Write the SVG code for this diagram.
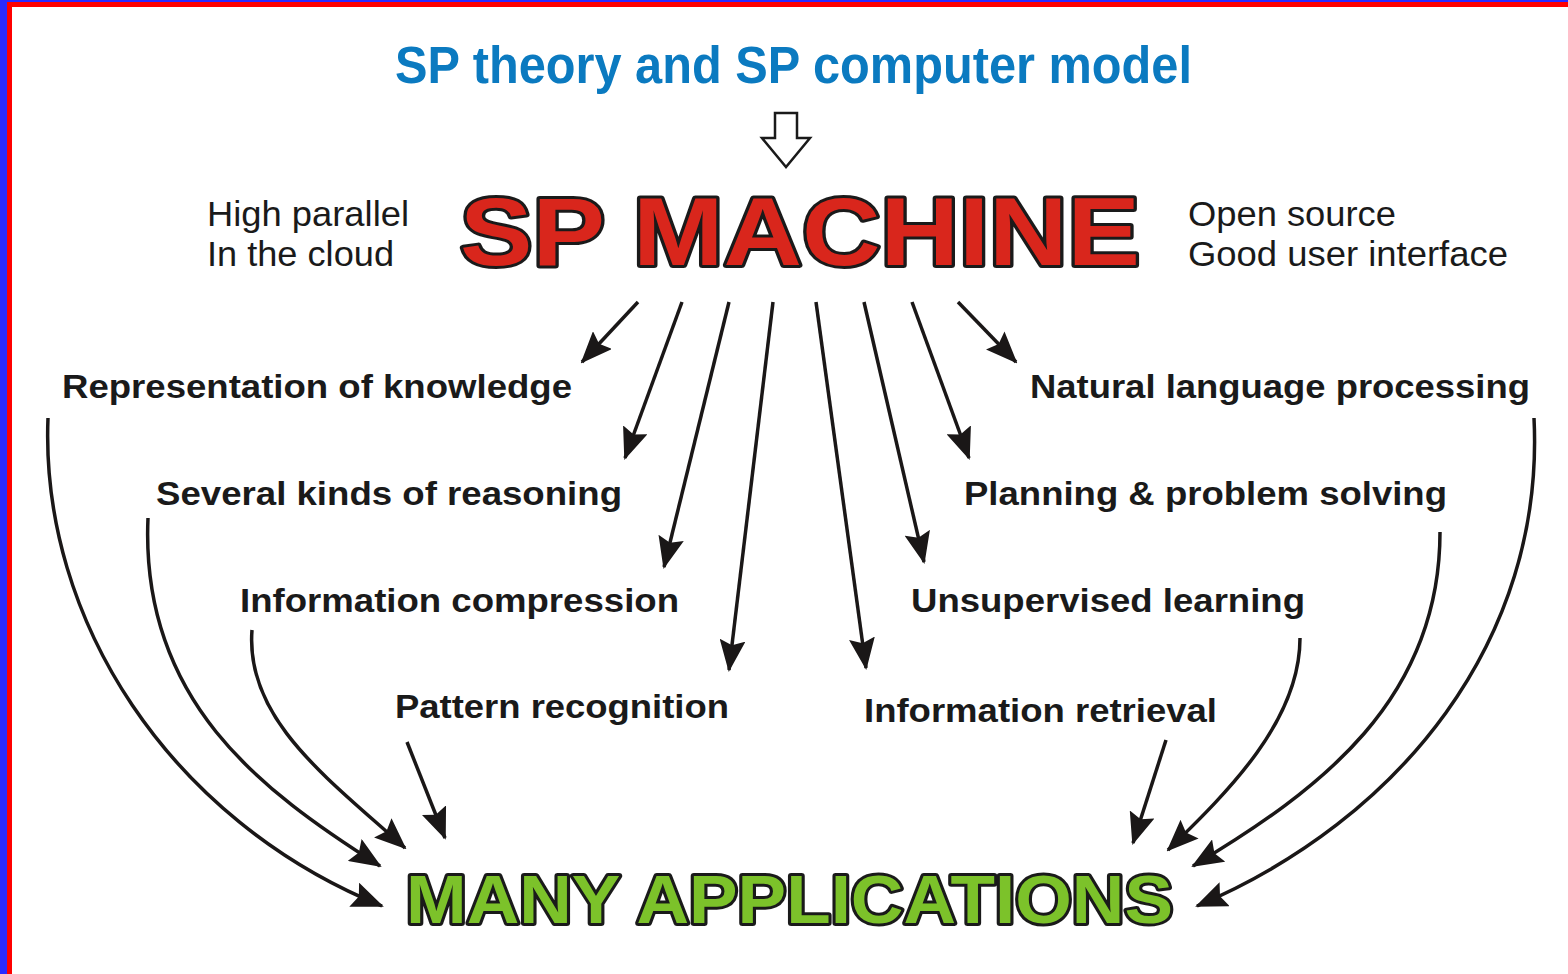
<svg xmlns="http://www.w3.org/2000/svg" width="1568" height="974" viewBox="0 0 1568 974">
<style>
.lbl{font-family:"Liberation Sans",Arial,sans-serif;font-weight:bold;font-size:33px;fill:#1a1a1a}
.plain{font-family:"Liberation Sans",Arial,sans-serif;font-size:35px;fill:#1a1a1a}
.title{font-family:"Liberation Sans",Arial,sans-serif;font-weight:bold;font-size:51px;fill:#0b7ac0}
.big{font-family:"Liberation Sans",Arial,sans-serif;font-weight:bold;stroke:#1a1a1a;stroke-linejoin:round;paint-order:stroke}
.conn{fill:none;stroke:#1a1717;stroke-width:3.5;marker-end:url(#ah)}
</style>
<defs>
<marker id="ah" viewBox="0 0 32 26" markerWidth="32" markerHeight="26" refX="30" refY="13" orient="auto" markerUnits="userSpaceOnUse">
<path d="M0,0 L32,13 L0,26 L5,13 z" fill="#1a1717"/>
</marker>
</defs>
<rect width="1568" height="974" fill="#ffffff"/>
<g id="border">
<rect x="0" y="0" width="1568" height="2" fill="#2a2aff"/>
<rect x="0" y="0" width="7" height="974" fill="#2a2aff"/>
<rect x="7" y="2" width="1561" height="5" fill="#ff0000"/>
<rect x="7" y="2" width="5" height="972" fill="#ff0000"/>
</g>
<g id="title"><text class="title" x="395" y="83" textLength="797" lengthAdjust="spacingAndGlyphs">SP theory and SP computer model</text></g>
<g id="hollow-arrow"><path d="M775,113 H797 V138 H810 L786,167 L762,138 H775 z" fill="#ffffff" stroke="#1a1a1a" stroke-width="2.5" stroke-linejoin="miter"/></g>
<g id="sp-machine"><text class="big" x="460" y="265" font-size="97" fill="#d9261c" stroke-width="6" textLength="680" lengthAdjust="spacingAndGlyphs">SP MACHINE</text></g>
<g id="left-features">
<text class="plain" x="207" y="226" textLength="202" lengthAdjust="spacingAndGlyphs">High parallel</text>
<text class="plain" x="207" y="266" textLength="187" lengthAdjust="spacingAndGlyphs">In the cloud</text>
</g>
<g id="right-features">
<text class="plain" x="1188" y="226" textLength="208" lengthAdjust="spacingAndGlyphs">Open source</text>
<text class="plain" x="1188" y="266" textLength="320" lengthAdjust="spacingAndGlyphs">Good user interface</text>
</g>
<g id="n-representation"><text class="lbl" x="62" y="398" textLength="510" lengthAdjust="spacingAndGlyphs">Representation of knowledge</text></g>
<g id="n-reasoning"><text class="lbl" x="156" y="505" textLength="466" lengthAdjust="spacingAndGlyphs">Several kinds of reasoning</text></g>
<g id="n-compression"><text class="lbl" x="240" y="612" textLength="439" lengthAdjust="spacingAndGlyphs">Information compression</text></g>
<g id="n-pattern"><text class="lbl" x="395" y="718" textLength="334" lengthAdjust="spacingAndGlyphs">Pattern recognition</text></g>
<g id="n-nlp"><text class="lbl" x="1030" y="398" textLength="500" lengthAdjust="spacingAndGlyphs">Natural language processing</text></g>
<g id="n-planning"><text class="lbl" x="964" y="505" textLength="483" lengthAdjust="spacingAndGlyphs">Planning &amp; problem solving</text></g>
<g id="n-unsupervised"><text class="lbl" x="911" y="612" textLength="394" lengthAdjust="spacingAndGlyphs">Unsupervised learning</text></g>
<g id="n-retrieval"><text class="lbl" x="864" y="722" textLength="353" lengthAdjust="spacingAndGlyphs">Information retrieval</text></g>
<g id="many-applications"><text class="big" x="406" y="923" font-size="69" fill="#7cc22a" stroke-width="6" textLength="767" lengthAdjust="spacingAndGlyphs">MANY APPLICATIONS</text></g>
<g id="connectors">
<path class="conn" d="M638,302 L582,362"/>
<path class="conn" d="M682,302 L625,458"/>
<path class="conn" d="M729,302 L664,567"/>
<path class="conn" d="M773,302 L729,670"/>
<path class="conn" d="M816,302 L866,668"/>
<path class="conn" d="M864,302 L924,562"/>
<path class="conn" d="M912,302 L969,458"/>
<path class="conn" d="M958,302 L1016,362"/>
<path class="conn" d="M48,418 C40,620 170,820 382,906"/>
<path class="conn" d="M148,518 C140,700 260,790 380,866"/>
<path class="conn" d="M252,630 C245,720 330,780 405,848"/>
<path class="conn" d="M407,742 L445,838"/>
<path class="conn" d="M1166,740 L1133,843"/>
<path class="conn" d="M1300,638 C1300,720 1230,790 1168,850"/>
<path class="conn" d="M1440,532 C1440,700 1320,790 1193,866"/>
<path class="conn" d="M1534,418 C1545,640 1400,820 1197,906"/>
</g>
</svg>
